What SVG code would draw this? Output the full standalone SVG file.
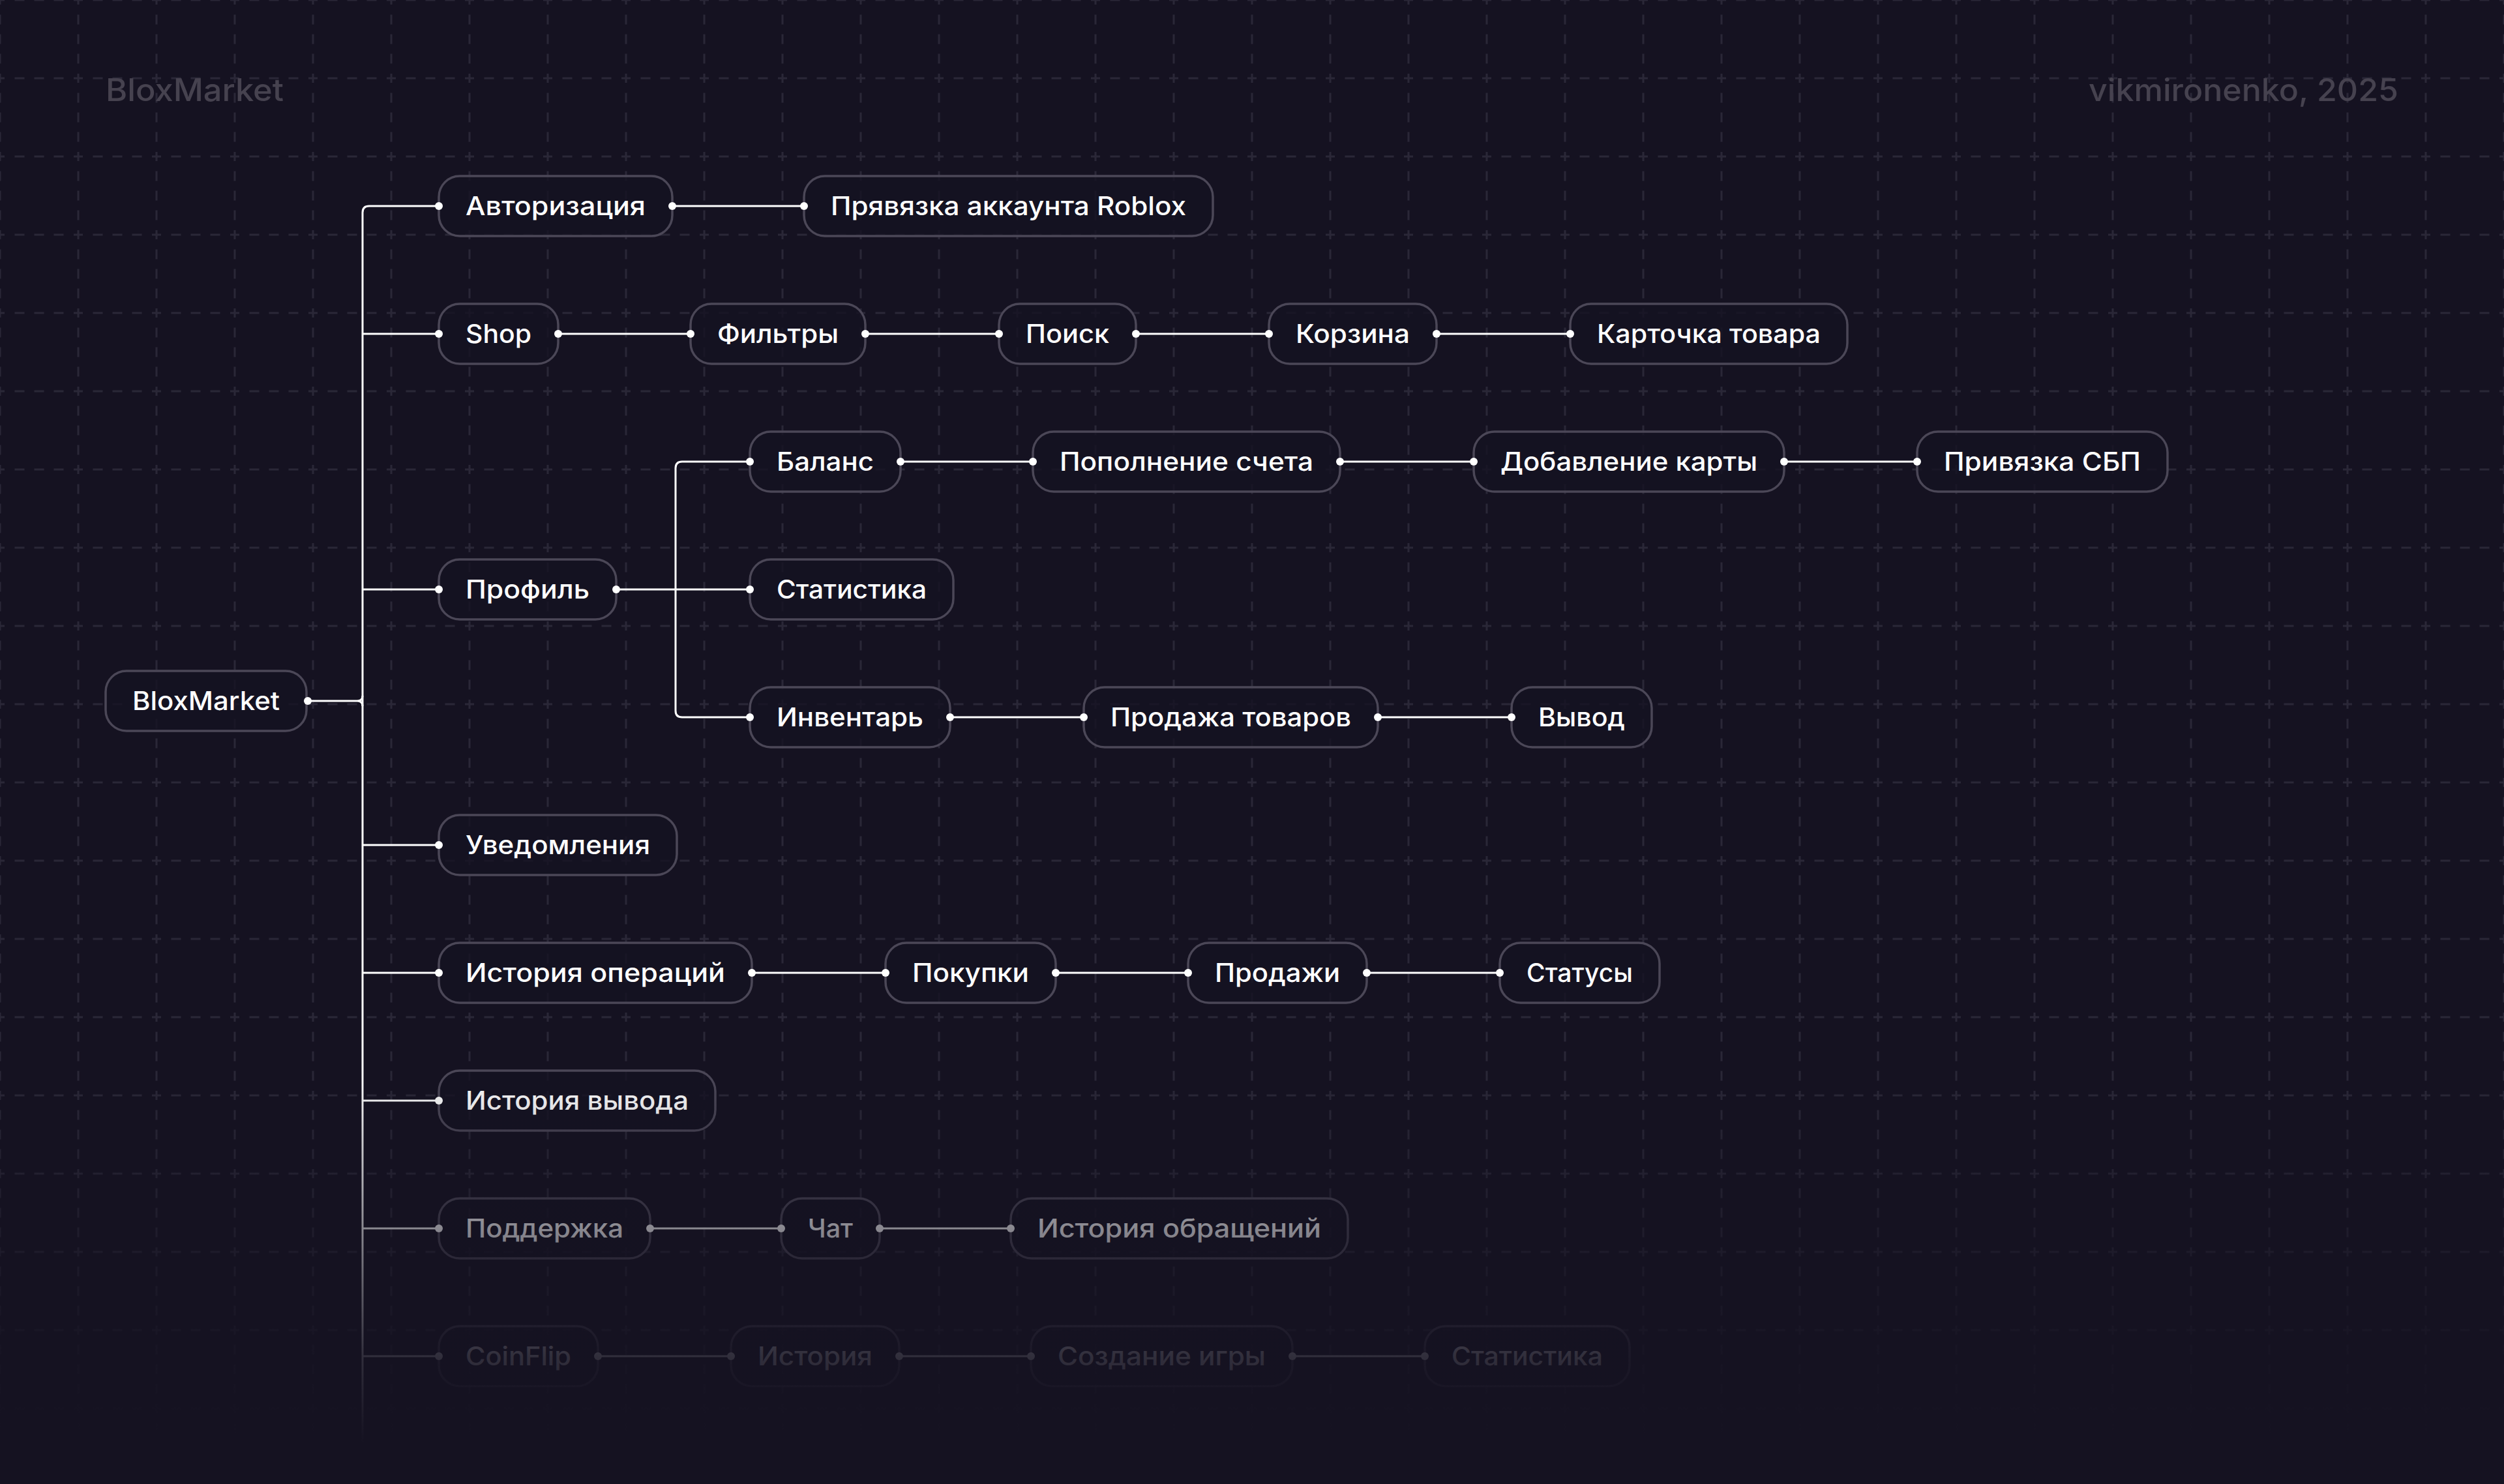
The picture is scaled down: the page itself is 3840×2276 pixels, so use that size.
<svg xmlns="http://www.w3.org/2000/svg" width="3840" height="2276" viewBox="0 0 3840 2276">
<defs>
<style>
.bg{fill:#151221}
.gl{fill:none;stroke:#2a2737;stroke-width:3}
.hdr{font-family:Inter,"Noto Sans",sans-serif;font-size:48px;font-weight:500;fill:#46424f}
.node rect{fill:#151221;fill-opacity:0.78;stroke:#4b4757;stroke-width:3.5}
.node text{font-family:Inter,"Noto Sans",sans-serif;font-size:39px;font-weight:500;fill:#ffffff;text-anchor:middle}
.conn{fill:none;stroke:#ffffff;stroke-width:3}
.dot{fill:#ffffff}
</style>
<pattern id="grid" x="-60" y="-60" width="120" height="120" patternUnits="userSpaceOnUse">
<path class="gl" d="M0,60H7.5M22.5,60H37.5M53,60H67M82.5,60H97.5M112.5,60H120M60,0V7.5M60,22.5V37.5M60,53V67M60,82.5V97.5M60,112.5V120"/>
</pattern>
<linearGradient id="fade" x1="0" y1="1640" x2="0" y2="2276" gradientUnits="userSpaceOnUse">
<stop offset="0" stop-color="#151221" stop-opacity="0"/>
<stop offset="0.384" stop-color="#151221" stop-opacity="0.5"/>
<stop offset="0.692" stop-color="#151221" stop-opacity="0.88"/>
<stop offset="0.9" stop-color="#151221" stop-opacity="1"/>
<stop offset="1" stop-color="#151221" stop-opacity="1"/>
</linearGradient>
</defs>
<rect class="bg" x="0" y="0" width="3840" height="2276"/>
<rect x="0" y="0" width="3840" height="2276" fill="url(#grid)"/>
<text class="hdr" x="162" y="155" textLength="273" lengthAdjust="spacingAndGlyphs">BloxMarket</text>
<text class="hdr" x="3678" y="155" text-anchor="end" textLength="475" lengthAdjust="spacingAndGlyphs">vikmironenko, 2025</text>

<g id="n-root" class="node"><rect x="162" y="1029" width="308" height="92" rx="32"/><text x="316" y="1089" textLength="226" lengthAdjust="spacingAndGlyphs">BloxMarket</text></g>

<g id="n-auth" class="node"><rect x="673" y="270" width="358" height="92" rx="32"/><text x="852" y="330" textLength="276" lengthAdjust="spacingAndGlyphs">Авторизация</text></g>
<g id="n-roblox" class="node"><rect x="1233" y="270" width="627" height="92" rx="32"/><text x="1546.5" y="330" textLength="545" lengthAdjust="spacingAndGlyphs">Прявязка аккаунта Roblox</text></g>

<g id="n-shop" class="node"><rect x="673" y="466" width="183" height="92" rx="32"/><text x="764.5" y="526" textLength="101" lengthAdjust="spacingAndGlyphs">Shop</text></g>
<g id="n-filters" class="node"><rect x="1059" y="466" width="268" height="92" rx="32"/><text x="1193" y="526" textLength="186" lengthAdjust="spacingAndGlyphs">Фильтры</text></g>
<g id="n-search" class="node"><rect x="1532" y="466" width="210" height="92" rx="32"/><text x="1637" y="526" textLength="128" lengthAdjust="spacingAndGlyphs">Поиск</text></g>
<g id="n-cart" class="node"><rect x="1946" y="466" width="257" height="92" rx="32"/><text x="2074.5" y="526" textLength="175" lengthAdjust="spacingAndGlyphs">Корзина</text></g>
<g id="n-card" class="node"><rect x="2408" y="466" width="425" height="92" rx="32"/><text x="2620.5" y="526" textLength="343" lengthAdjust="spacingAndGlyphs">Карточка товара</text></g>

<g id="n-balance" class="node"><rect x="1150" y="662" width="231" height="92" rx="32"/><text x="1265.5" y="722" textLength="149" lengthAdjust="spacingAndGlyphs">Баланс</text></g>
<g id="n-topup" class="node"><rect x="1584" y="662" width="471" height="92" rx="32"/><text x="1819.5" y="722" textLength="389" lengthAdjust="spacingAndGlyphs">Пополнение счета</text></g>
<g id="n-addcard" class="node"><rect x="2260" y="662" width="476" height="92" rx="32"/><text x="2498" y="722" textLength="394" lengthAdjust="spacingAndGlyphs">Добавление карты</text></g>
<g id="n-sbp" class="node"><rect x="2940" y="662" width="384" height="92" rx="32"/><text x="3132" y="722" textLength="302" lengthAdjust="spacingAndGlyphs">Привязка СБП</text></g>

<g id="n-profile" class="node"><rect x="673" y="858" width="272" height="92" rx="32"/><text x="809" y="918" textLength="190" lengthAdjust="spacingAndGlyphs">Профиль</text></g>
<g id="n-stats" class="node"><rect x="1150" y="858" width="312" height="92" rx="32"/><text x="1306" y="918" textLength="230" lengthAdjust="spacingAndGlyphs">Статистика</text></g>

<g id="n-inventory" class="node"><rect x="1150" y="1054" width="307" height="92" rx="32"/><text x="1303.5" y="1114" textLength="225" lengthAdjust="spacingAndGlyphs">Инвентарь</text></g>
<g id="n-sell" class="node"><rect x="1662" y="1054" width="451" height="92" rx="32"/><text x="1887.5" y="1114" textLength="369" lengthAdjust="spacingAndGlyphs">Продажа товаров</text></g>
<g id="n-withdraw" class="node"><rect x="2318" y="1054" width="215" height="92" rx="32"/><text x="2425.5" y="1114" textLength="133" lengthAdjust="spacingAndGlyphs">Вывод</text></g>

<g id="n-notif" class="node"><rect x="673" y="1250" width="365" height="92" rx="32"/><text x="855.5" y="1310" textLength="283" lengthAdjust="spacingAndGlyphs">Уведомления</text></g>

<g id="n-ophist" class="node"><rect x="673" y="1446" width="480" height="92" rx="32"/><text x="913" y="1506" textLength="398" lengthAdjust="spacingAndGlyphs">История операций</text></g>
<g id="n-purchases" class="node"><rect x="1358" y="1446" width="261" height="92" rx="32"/><text x="1488.5" y="1506" textLength="179" lengthAdjust="spacingAndGlyphs">Покупки</text></g>
<g id="n-sales" class="node"><rect x="1822" y="1446" width="274" height="92" rx="32"/><text x="1959" y="1506" textLength="192" lengthAdjust="spacingAndGlyphs">Продажи</text></g>
<g id="n-statuses" class="node"><rect x="2300" y="1446" width="245" height="92" rx="32"/><text x="2422.5" y="1506" textLength="163" lengthAdjust="spacingAndGlyphs">Статусы</text></g>

<g id="n-wdhist" class="node"><rect x="673" y="1642" width="424" height="92" rx="32"/><text x="885" y="1702" textLength="342" lengthAdjust="spacingAndGlyphs">История вывода</text></g>

<g id="n-support" class="node"><rect x="673" y="1838" width="324" height="92" rx="32"/><text x="835" y="1898" textLength="242" lengthAdjust="spacingAndGlyphs">Поддержка</text></g>
<g id="n-chat" class="node"><rect x="1198" y="1838" width="151" height="92" rx="32"/><text x="1273.5" y="1898" textLength="69" lengthAdjust="spacingAndGlyphs">Чат</text></g>
<g id="n-tickets" class="node"><rect x="1550" y="1838" width="517" height="92" rx="32"/><text x="1808.5" y="1898" textLength="435" lengthAdjust="spacingAndGlyphs">История обращений</text></g>

<g id="n-coinflip" class="node"><rect x="673" y="2034" width="244" height="92" rx="32"/><text x="795" y="2094" textLength="162" lengthAdjust="spacingAndGlyphs">CoinFlip</text></g>
<g id="n-cfhist" class="node"><rect x="1121" y="2034" width="258" height="92" rx="32"/><text x="1250" y="2094" textLength="176" lengthAdjust="spacingAndGlyphs">История</text></g>
<g id="n-creategame" class="node"><rect x="1581" y="2034" width="401" height="92" rx="32"/><text x="1781.5" y="2094" textLength="319" lengthAdjust="spacingAndGlyphs">Создание игры</text></g>
<g id="n-cfstats" class="node"><rect x="2185" y="2034" width="314" height="92" rx="32"/><text x="2342" y="2094" textLength="232" lengthAdjust="spacingAndGlyphs">Статистика</text></g>

<g id="connectors">
<path class="conn" d="M673,316H566Q556,316 556,326V2276"/>
<path class="conn" d="M472,1075H548Q556,1075 556,1067M548,1075Q556,1075 556,1083"/>
<path class="conn" d="M556,512H673M556,904H673M556,1296H673M556,1492H673M556,1688H673M556,1884H673M556,2080H673"/>
<path class="conn" d="M945,904H1150M1150,708H1046Q1036,708 1036,718V1090Q1036,1100 1046,1100H1150"/>
<path class="conn" d="M1031,316H1233"/>
<path class="conn" d="M856,512H1059M1327,512H1532M1742,512H1946M2203,512H2408"/>
<path class="conn" d="M1381,708H1584M2055,708H2260M2736,708H2940"/>
<path class="conn" d="M1457,1100H1662M2113,1100H2318"/>
<path class="conn" d="M1153,1492H1358M1619,1492H1822M2096,1492H2300"/>
<path class="conn" d="M997,1884H1198M1349,1884H1550"/>
<path class="conn" d="M917,2080H1121M1379,2080H1581M1982,2080H2185"/>
<g class="dot">
<circle cx="472" cy="1075" r="6"/>
<circle cx="673" cy="316" r="6"/><circle cx="673" cy="512" r="6"/><circle cx="673" cy="904" r="6"/><circle cx="673" cy="1296" r="6"/><circle cx="673" cy="1492" r="6"/><circle cx="673" cy="1688" r="6"/><circle cx="673" cy="1884" r="6"/><circle cx="673" cy="2080" r="6"/>
<circle cx="945" cy="904" r="6"/><circle cx="1150" cy="708" r="6"/><circle cx="1150" cy="904" r="6"/><circle cx="1150" cy="1100" r="6"/>
<circle cx="1031" cy="316" r="6"/><circle cx="1233" cy="316" r="6"/>
<circle cx="856" cy="512" r="6"/><circle cx="1059" cy="512" r="6"/><circle cx="1327" cy="512" r="6"/><circle cx="1532" cy="512" r="6"/><circle cx="1742" cy="512" r="6"/><circle cx="1946" cy="512" r="6"/><circle cx="2203" cy="512" r="6"/><circle cx="2408" cy="512" r="6"/>
<circle cx="1381" cy="708" r="6"/><circle cx="1584" cy="708" r="6"/><circle cx="2055" cy="708" r="6"/><circle cx="2260" cy="708" r="6"/><circle cx="2736" cy="708" r="6"/><circle cx="2940" cy="708" r="6"/>
<circle cx="1457" cy="1100" r="6"/><circle cx="1662" cy="1100" r="6"/><circle cx="2113" cy="1100" r="6"/><circle cx="2318" cy="1100" r="6"/>
<circle cx="1153" cy="1492" r="6"/><circle cx="1358" cy="1492" r="6"/><circle cx="1619" cy="1492" r="6"/><circle cx="1822" cy="1492" r="6"/><circle cx="2096" cy="1492" r="6"/><circle cx="2300" cy="1492" r="6"/>
<circle cx="997" cy="1884" r="6"/><circle cx="1198" cy="1884" r="6"/><circle cx="1349" cy="1884" r="6"/><circle cx="1550" cy="1884" r="6"/>
<circle cx="917" cy="2080" r="6"/><circle cx="1121" cy="2080" r="6"/><circle cx="1379" cy="2080" r="6"/><circle cx="1581" cy="2080" r="6"/><circle cx="1982" cy="2080" r="6"/><circle cx="2185" cy="2080" r="6"/>
</g>
</g>

<rect x="0" y="1640" width="3840" height="636" fill="url(#fade)"/>
</svg>
